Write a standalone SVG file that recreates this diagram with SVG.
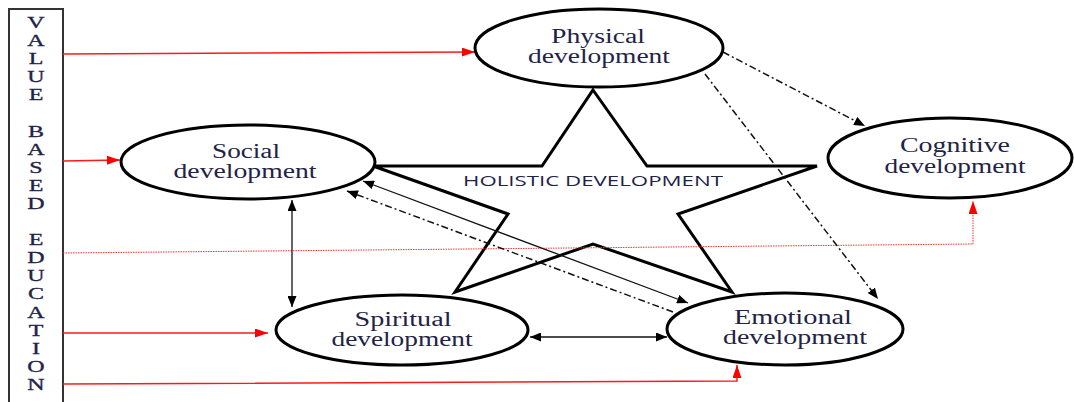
<svg xmlns="http://www.w3.org/2000/svg" width="1074" height="402" viewBox="0 0 1074 402">
<defs>
<style>
.node{fill:#fff;stroke:#000;stroke-width:3}
.lbl{font-family:"Liberation Serif","Times New Roman",serif;font-size:20px;fill:#1f2347;text-anchor:middle}
.vbe{font-family:"Liberation Serif","Times New Roman",serif;font-size:16px;fill:#1f2347;text-anchor:middle}
.red{fill:none;stroke:#ff1a1a;stroke-width:1.5}
.reddot{fill:none;stroke:#ff3030;stroke-width:1;stroke-dasharray:1.5 1}
.blk{fill:none;stroke:#111;stroke-width:1.3}
.dd{fill:none;stroke:#111;stroke-width:1.5;stroke-dasharray:7 3 2 3}
</style>
<marker id="ar" markerUnits="userSpaceOnUse" markerWidth="13" markerHeight="9" refX="13" refY="4.5" orient="auto"><path d="M0,0 L13,4.5 L0,9 z" fill="#ff0000"/></marker>
<marker id="ab" markerUnits="userSpaceOnUse" markerWidth="11" markerHeight="9" refX="11" refY="4.5" orient="auto-start-reverse"><path d="M0,0 L11,4.5 L0,9 z" fill="#000"/></marker>
</defs>
<rect width="1074" height="402" fill="#fff"/>

<g id="value-based-education">
<rect x="9" y="9" width="54" height="400" fill="none" stroke="#333" stroke-width="2"/>
<g transform="translate(36,0) scale(1.5,1)">
<text class="vbe" stroke="#1f2347" stroke-width="0.3"><tspan x="0" y="28">V</tspan><tspan x="0" y="46.1">A</tspan><tspan x="0" y="64.2">L</tspan><tspan x="0" y="82.3">U</tspan><tspan x="0" y="100.4">E</tspan><tspan x="0" y="136.6">B</tspan><tspan x="0" y="154.7">A</tspan><tspan x="0" y="172.8">S</tspan><tspan x="0" y="190.9">E</tspan><tspan x="0" y="209">D</tspan><tspan x="0" y="245.2">E</tspan><tspan x="0" y="263.3">D</tspan><tspan x="0" y="281.4">U</tspan><tspan x="0" y="299.5">C</tspan><tspan x="0" y="317.6">A</tspan><tspan x="0" y="335.7">T</tspan><tspan x="0" y="353.8">I</tspan><tspan x="0" y="371.9">O</tspan><tspan x="0" y="390">N</tspan></text>
</g>
</g>

<g id="holistic-star">
<polygon points="593,90 647,166 817,166 678,214 732,292 593,244 455,292 508,214 373,166 542,166" fill="none" stroke="#000" stroke-width="3" stroke-linejoin="miter"/>
<text x="593" y="186" textLength="260" lengthAdjust="spacingAndGlyphs" style="font-family:'Open Sans','Liberation Sans',sans-serif;font-size:14px;fill:#1f2347;text-anchor:middle">HOLISTIC DEVELOPMENT</text>
</g>

<g id="connectors">
<polyline class="red" points="63,54 475,52" marker-end="url(#ar)"/>
<polyline class="red" points="63,161 120,160" marker-end="url(#ar)"/>
<polyline class="reddot" points="63,253 973,244 973,201" marker-end="url(#ar)"/>
<polyline class="red" points="63,333 268,333" marker-end="url(#ar)"/>
<polyline class="red" points="63,384 737,381 737,365" marker-end="url(#ar)"/>
<line class="dd" x1="723" y1="52" x2="865" y2="126" marker-end="url(#ab)"/>
<line class="dd" x1="705" y1="74" x2="878" y2="299" marker-end="url(#ab)"/>
<line class="blk" x1="292" y1="200" x2="292" y2="307" marker-start="url(#ab)" marker-end="url(#ab)"/>
<line class="blk" x1="530" y1="337" x2="667" y2="337" marker-start="url(#ab)" marker-end="url(#ab)"/>
<line class="blk" x1="363" y1="181" x2="688" y2="303" marker-start="url(#ab)" marker-end="url(#ab)"/>
<line class="dd" x1="673" y1="312" x2="347" y2="191" marker-end="url(#ab)"/>
</g>

<g id="physical">
<ellipse class="node" cx="599" cy="48" rx="124" ry="39"/>
<text class="lbl" x="598" y="43" textLength="94" lengthAdjust="spacingAndGlyphs">Physical</text>
<text class="lbl" x="599" y="63" textLength="142" lengthAdjust="spacingAndGlyphs">development</text>
</g>
<g id="social">
<ellipse class="node" cx="248" cy="162" rx="127" ry="37"/>
<text class="lbl" x="246" y="158" textLength="68" lengthAdjust="spacingAndGlyphs">Social</text>
<text class="lbl" x="245" y="178" textLength="143" lengthAdjust="spacingAndGlyphs">development</text>
</g>
<g id="cognitive">
<ellipse class="node" cx="950" cy="158" rx="122" ry="40"/>
<text class="lbl" x="955" y="152" textLength="110" lengthAdjust="spacingAndGlyphs">Cognitive</text>
<text class="lbl" x="955" y="173" textLength="141" lengthAdjust="spacingAndGlyphs">development</text>
</g>
<g id="spiritual">
<ellipse class="node" cx="402" cy="330" rx="126" ry="35"/>
<text class="lbl" x="403" y="326" textLength="97" lengthAdjust="spacingAndGlyphs">Spiritual</text>
<text class="lbl" x="402" y="346" textLength="141" lengthAdjust="spacingAndGlyphs">development</text>
</g>
<g id="emotional">
<ellipse class="node" cx="785" cy="329" rx="118" ry="36"/>
<text class="lbl" x="793" y="324" textLength="118" lengthAdjust="spacingAndGlyphs">Emotional</text>
<text class="lbl" x="795" y="344" textLength="144" lengthAdjust="spacingAndGlyphs">development</text>
</g>
</svg>
